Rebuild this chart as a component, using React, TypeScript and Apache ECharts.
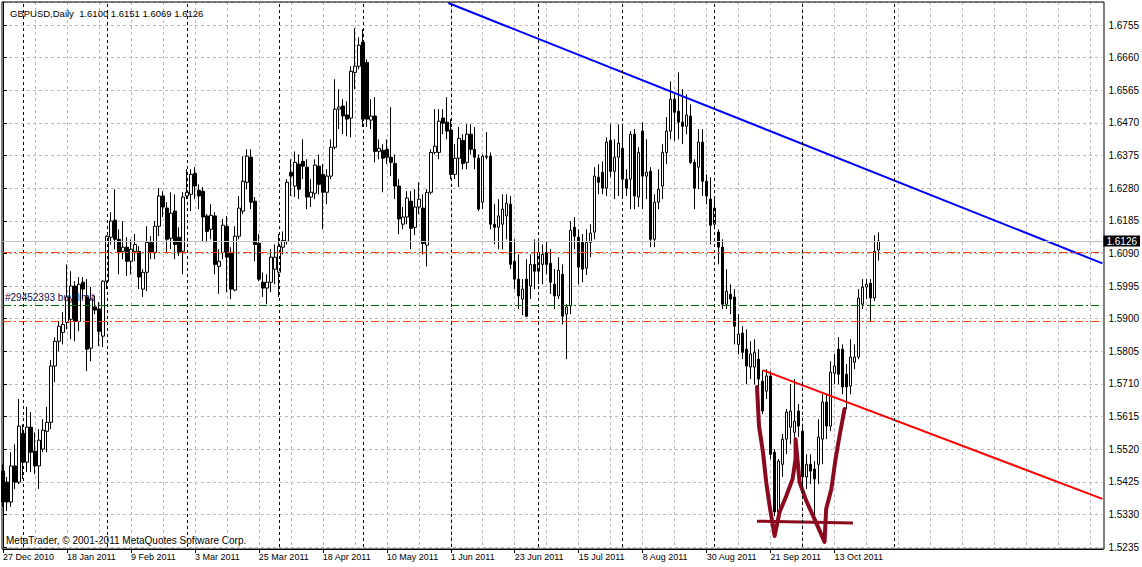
import React, { useEffect, useRef } from "react";
import * as echarts from "echarts";

const SYMBOL = "GBPUSD,Daily";
const SLOTS = 276; // bars plus the empty chart shift on the right
const FONT = 'Tahoma, "Liberation Sans", Arial, sans-serif';

const opens = [
  1.5456,1.5424,1.5366,1.5471,1.5424,1.5566,1.5482,1.5584,1.5514,1.5471,
  1.5520,1.5572,1.5598,1.5762,1.5834,1.5860,1.5889,1.5898,1.5995,1.5892,
  1.6006,1.5963,1.5814,1.5934,1.5928,1.5849,1.6009,1.6137,1.6187,1.6131,
  1.6096,1.6108,1.6067,1.6096,1.6096,1.5986,1.6035,1.6122,1.6093,1.6169,
  1.6257,1.6222,1.6134,1.6213,1.6137,1.6096,1.6257,1.6262,1.6323,1.6274,
  1.6271,1.6199,1.6160,1.6199,1.6052,1.6093,1.6169,1.6093,1.5983,1.6140,
  1.6213,1.6297,1.6370,1.6242,1.6119,1.6006,1.5989,1.6006,1.6044,1.6035,
  1.6108,1.6125,1.6326,1.6286,1.6350,1.6358,1.6341,1.6254,1.6265,1.6344,
  1.6320,1.6268,1.6315,1.6399,1.6510,1.6519,1.6493,1.6484,1.6617,1.6635,
  1.6705,1.6646,1.6478,1.6490,1.6387,1.6390,1.6393,1.6370,1.6352,1.6286,
  1.6175,1.6196,1.6242,1.6166,1.6225,1.6222,1.6114,1.6268,1.6384,1.6384,
  1.6484,1.6472,1.6449,1.6320,1.6367,1.6419,1.6355,1.6437,1.6393,1.6367,
  1.6239,1.6370,1.6373,1.6175,1.6166,1.6175,1.6199,1.6233,1.6067,1.6015,
  1.5957,1.6015,1.5995,1.6058,1.6038,1.6058,1.6093,1.6061,1.6000,1.5966,
  1.6029,1.5913,1.5937,1.6166,1.6137,1.6122,1.6047,1.6122,1.6152,1.6312,
  1.6326,1.6280,1.6419,1.6329,1.6370,1.6396,1.6306,1.6306,1.6437,1.6254,
  1.6446,1.6315,1.6329,1.6131,1.6239,1.6286,1.6384,1.6446,1.6539,1.6504,
  1.6472,1.6460,1.6490,1.6355,1.6341,1.6414,1.6300,1.6248,1.6175,1.6152,
  1.6108,1.5942,1.5971,1.5963,1.5825,1.5858,1.5811,1.5759,1.5759,1.5782,
  1.5718,1.5689,1.5733,1.5511,1.5337,1.5476,1.5549,1.5584,1.5569,1.5631,
  1.5572,1.5439,1.5476,1.5462,1.5476,1.5549,1.5657,1.5587,1.5741,1.5811,
  1.5811,1.5738,1.5704,1.5773,1.5788,1.5942,1.5992,1.6003,1.5960,1.6100,
];

const closes = [
  1.5366,1.5366,1.5471,1.5424,1.5587,1.5482,1.5584,1.5511,1.5471,1.5546,
  1.5575,1.5598,1.5762,1.5834,1.5878,1.5883,1.5963,1.5995,1.5892,1.6000,
  1.5986,1.5811,1.5957,1.5925,1.5863,1.6009,1.6140,1.6184,1.6131,1.6093,
  1.6108,1.6067,1.6102,1.6116,1.6021,1.6035,1.6122,1.6093,1.6169,1.6257,
  1.6225,1.6131,1.6207,1.6116,1.6093,1.6254,1.6268,1.6320,1.6286,1.6257,
  1.6196,1.6154,1.6201,1.6058,1.6067,1.6172,1.6079,1.5986,1.6140,1.6222,
  1.6300,1.6373,1.6239,1.6116,1.6015,1.5989,1.6006,1.6079,1.6079,1.6111,
  1.6128,1.6297,1.6315,1.6355,1.6277,1.6344,1.6254,1.6268,1.6347,1.6291,
  1.6268,1.6315,1.6399,1.6510,1.6516,1.6490,1.6481,1.6620,1.6635,1.6696,
  1.6481,1.6481,1.6490,1.6387,1.6396,1.6367,1.6370,1.6355,1.6286,1.6190,
  1.6196,1.6251,1.6163,1.6225,1.6248,1.6119,1.6268,1.6384,1.6402,1.6475,
  1.6469,1.6446,1.6320,1.6367,1.6425,1.6352,1.6437,1.6393,1.6370,1.6219,
  1.6373,1.6373,1.6175,1.6166,1.6199,1.6219,1.6236,1.6058,1.6015,1.5966,
  1.5986,1.5907,1.6058,1.6038,1.6093,1.6087,1.6058,1.6006,1.5966,1.6041,
  1.5907,1.5934,1.6157,1.6140,1.6050,1.6044,1.6122,1.6149,1.6315,1.6297,
  1.6280,1.6414,1.6329,1.6370,1.6411,1.6306,1.6280,1.6437,1.6257,1.6384,
  1.6315,1.6326,1.6131,1.6239,1.6277,1.6384,1.6446,1.6539,1.6501,1.6472,
  1.6460,1.6493,1.6355,1.6280,1.6414,1.6300,1.6257,1.6172,1.6222,1.6108,
  1.5942,1.5980,1.5957,1.5878,1.5855,1.5802,1.5762,1.5797,1.5802,1.5724,
  1.5631,1.5733,1.5505,1.5337,1.5485,1.5549,1.5628,1.5631,1.5601,1.5587,
  1.5439,1.5476,1.5456,1.5433,1.5555,1.5657,1.5587,1.5744,1.5762,1.5738,
  1.5701,1.5701,1.5788,1.5788,1.5960,1.5992,1.6000,1.5960,1.6096,1.6126,
];

const lows = [
  1.5352,1.5340,1.5352,1.5404,1.5418,1.5433,1.5453,1.5453,1.5447,1.5404,
  1.5511,1.5511,1.5578,1.5715,1.5805,1.5825,1.5869,1.5840,1.5834,1.5863,
  1.5957,1.5747,1.5776,1.5913,1.5820,1.5817,1.5986,1.6116,1.6102,1.6029,
  1.6073,1.6024,1.6029,1.6067,1.5986,1.5963,1.5980,1.6073,1.6073,1.6140,
  1.6196,1.6093,1.6102,1.6073,1.6082,1.6029,1.6248,1.6213,1.6248,1.6219,
  1.6125,1.6122,1.6131,1.6029,1.5972,1.6073,1.5977,1.5957,1.5980,1.6131,
  1.6204,1.6277,1.6219,1.6067,1.6009,1.5963,1.5942,1.5977,1.6000,1.5963,
  1.6087,1.6116,1.6257,1.6254,1.6248,1.6306,1.6219,1.6225,1.6248,1.6262,
  1.6160,1.6233,1.6306,1.6393,1.6452,1.6437,1.6431,1.6428,1.6568,1.6626,
  1.6458,1.6458,1.6452,1.6355,1.6364,1.6268,1.6350,1.6315,1.6248,1.6146,
  1.6160,1.6175,1.6102,1.6143,1.6204,1.6087,1.6052,1.6262,1.6378,1.6364,
  1.6437,1.6422,1.6306,1.6306,1.6283,1.6335,1.6335,1.6378,1.6335,1.6213,
  1.6219,1.6364,1.6160,1.6116,1.6102,1.6102,1.6131,1.6044,1.5986,1.5928,
  1.5910,1.5904,1.5957,1.5986,1.6000,1.6000,1.6029,1.5972,1.5928,1.5957,
  1.5883,1.5782,1.5913,1.6102,1.6000,1.6006,1.6027,1.6079,1.6131,1.6262,
  1.6262,1.6257,1.6312,1.6248,1.6257,1.6248,1.6257,1.6219,1.6219,1.6225,
  1.6219,1.6248,1.6108,1.6108,1.6219,1.6248,1.6350,1.6422,1.6417,1.6422,
  1.6408,1.6437,1.6350,1.6219,1.6277,1.6257,1.6233,1.6116,1.6160,1.6058,
  1.5928,1.5928,1.5913,1.5825,1.5796,1.5782,1.5709,1.5724,1.5709,1.5695,
  1.5622,1.5666,1.5491,1.5325,1.5331,1.5439,1.5505,1.5534,1.5549,1.5555,
  1.5398,1.5404,1.5418,1.5302,1.5418,1.5476,1.5549,1.5572,1.5709,1.5709,
  1.5680,1.5637,1.5680,1.5753,1.5782,1.5928,1.5957,1.5890,1.5951,1.6069,
];

const highs = [
  1.5476,1.5439,1.5511,1.5534,1.5666,1.5592,1.5643,1.5628,1.5569,1.5578,
  1.5607,1.5643,1.5779,1.5846,1.5892,1.5919,1.6058,1.6038,1.6009,1.6021,
  1.6021,1.6015,1.5992,1.5966,1.5948,1.6012,1.6143,1.6210,1.6277,1.6160,
  1.6184,1.6137,1.6131,1.6146,1.6111,1.6044,1.6169,1.6140,1.6184,1.6280,
  1.6271,1.6239,1.6268,1.6262,1.6166,1.6268,1.6335,1.6335,1.6341,1.6291,
  1.6283,1.6204,1.6233,1.6210,1.6102,1.6190,1.6199,1.6108,1.6169,1.6257,
  1.6373,1.6393,1.6393,1.6254,1.6146,1.6035,1.6029,1.6102,1.6116,1.6146,
  1.6154,1.6306,1.6364,1.6387,1.6378,1.6422,1.6364,1.6306,1.6364,1.6378,
  1.6350,1.6335,1.6422,1.6597,1.6568,1.6539,1.6533,1.6635,1.6746,1.6719,
  1.6743,1.6655,1.6539,1.6545,1.6422,1.6408,1.6422,1.6516,1.6378,1.6306,
  1.6225,1.6271,1.6271,1.6277,1.6297,1.6262,1.6277,1.6393,1.6510,1.6510,
  1.6510,1.6545,1.6481,1.6408,1.6458,1.6437,1.6466,1.6466,1.6458,1.6378,
  1.6378,1.6443,1.6384,1.6233,1.6248,1.6262,1.6262,1.6257,1.6131,1.6087,
  1.6015,1.6073,1.6087,1.6131,1.6131,1.6116,1.6125,1.6102,1.6044,1.6079,
  1.6058,1.5942,1.6184,1.6196,1.6160,1.6146,1.6160,1.6175,1.6341,1.6350,
  1.6358,1.6428,1.6466,1.6422,1.6466,1.6466,1.6335,1.6446,1.6452,1.6399,
  1.6472,1.6422,1.6341,1.6262,1.6335,1.6408,1.6487,1.6591,1.6553,1.6617,
  1.6568,1.6553,1.6524,1.6364,1.6452,1.6452,1.6320,1.6312,1.6248,1.6160,
  1.6131,1.6044,1.6000,1.5986,1.5913,1.5878,1.5869,1.5834,1.5840,1.5811,
  1.5750,1.5753,1.5747,1.5520,1.5491,1.5564,1.5637,1.5709,1.5724,1.5651,
  1.5584,1.5505,1.5505,1.5485,1.5607,1.5680,1.5680,1.5776,1.5797,1.5846,
  1.5825,1.5768,1.5840,1.5825,1.5986,1.6015,1.6015,1.6015,1.6143,1.6151,
];

// bar indices of the monthly period separators
const monthSeparators = [5, 26, 46, 69, 90, 112, 134, 155, 178, 200, 223];

// price scale
const priceMin = 1.5235;
const priceMax = 1.6822;
const priceStep = 0.0095;

// horizontal levels
const bidPrice = 1.6126;
const upperOrderPrice = 1.6093;
const buyLimitPrice = 1.594;
const lowerOrderPrice = 1.5891;
const buyLimitLabel = "#29452393 buy limit";

// drawn objects, [bar index, price]
const blueTrend = [[111.4, 1.6819], [275, 1.6061]];
const redTrend = [[190, 1.575], [275, 1.5375]];
const wDrawing = [
  [188.6, 1.5701], [189.1, 1.5587], [190.1, 1.5511], [190.9, 1.5424], [191.75, 1.5355],
  [193.0, 1.5267], [194.25, 1.5337], [195.9, 1.5383], [197.5, 1.5433], [198.25, 1.5491],
  [198.25, 1.5549], [199.25, 1.5424], [200.9, 1.537], [203.0, 1.5316], [205.5, 1.525],
  [205.9, 1.5346], [207.2, 1.5404], [208.25, 1.5491], [209.25, 1.5559], [210.5, 1.5637],
];
const wBase = [[188.6, 1.531], [212.6, 1.5305]];

const MONTHS = ["Jan","Feb","Mar","Apr","May","Jun","Jul","Aug","Sep","Oct","Nov","Dec"];

function tradingDays(count: number): string[] {
  const out: string[] = [];
  const d = new Date(Date.UTC(2010, 11, 27));
  while (out.length < count) {
    const wd = d.getUTCDay();
    if (wd !== 0 && wd !== 6) {
      out.push(`${d.getUTCDate()} ${MONTHS[d.getUTCMonth()]} ${d.getUTCFullYear()}`);
    }
    d.setUTCDate(d.getUTCDate() + 1);
  }
  return out;
}

export default function App() {
  const ref = useRef<HTMLDivElement>(null);

  useEffect(() => {
    if (!ref.current) return;
    const chart = echarts.init(ref.current, null, { renderer: "svg" });
    const dates = tradingDays(SLOTS);
    const nBars = opens.length;
    const candles = opens.map((o, i) => [o, closes[i], lows[i], highs[i]]);
    const last = nBars - 1;
    const titleText = `${SYMBOL}\u00a0\u00a0${opens[last].toFixed(4)} ${highs[last].toFixed(4)} ${lows[last].toFixed(4)} ${closes[last].toFixed(4)}`;

    const gridColor = "#bcb6c6";
    const dashDot = [8, 3, 2, 3];

    const sepLines = monthSeparators.map((i) => ({
      xAxis: dates[i],
      lineStyle: { color: "#000", width: 1, type: [3, 3] },
      label: { show: false },
    }));

    const levelLines = [
      {
        yAxis: bidPrice,
        lineStyle: { color: "#c0c0c0", width: 1, type: "solid" },
        label: {
          show: true,
          position: "end",
          distance: 1,
          formatter: bidPrice.toFixed(4),
          color: "#fff",
          backgroundColor: "#000",
          padding: [1, 3, 0, 3],
          fontSize: 10,
          fontFamily: FONT,
        },
      },
      {
        yAxis: upperOrderPrice,
        lineStyle: { color: "#ff4500", width: 1, type: dashDot },
        label: { show: false },
      },
      {
        yAxis: buyLimitPrice,
        lineStyle: { color: "#007000", width: 1, type: dashDot },
        label: {
          show: true,
          position: "insideStartTop",
          distance: 2,
          formatter: buyLimitLabel,
          color: "#10104a",
          fontSize: 10,
          fontFamily: FONT,
        },
      },
      {
        yAxis: lowerOrderPrice,
        lineStyle: { color: "#ff4500", width: 1, type: dashDot },
        label: { show: false },
      },
    ];

    const labelTick = (i: number) => i % 16 === 0 && i < nBars;

    chart.setOption({
      animation: false,
      backgroundColor: "#fff",
      title: {
        text: titleText,
        left: 5,
        top: 3,
        textStyle: { fontSize: 9.5, fontWeight: "normal", color: "#000", fontFamily: FONT },
      },
      grid: { left: 3, right: 38, top: 2, bottom: 20, containLabel: false },
      xAxis: [
        {
          type: "category",
          data: dates,
          boundaryGap: false,
          offset: 2,
          axisLine: { show: true, lineStyle: { color: "#000", width: 1 } },
          axisTick: { show: true, interval: labelTick, length: 4, lineStyle: { color: "#000" } },
          axisLabel: {
            interval: labelTick,
            align: "left",
            margin: 3,
            color: "#000",
            fontSize: 9,
            fontFamily: FONT,
          },
          splitLine: {
            show: true,
            interval: (i: number) => i % 8 === 0 && i > 0,
            lineStyle: { color: gridColor, width: 1, type: [3, 3] },
          },
        },
        { type: "value", min: 0, max: SLOTS - 1, show: false },
      ],
      yAxis: {
        type: "value",
        position: "right",
        min: priceMin,
        max: priceMax,
        interval: priceStep,
        axisLine: { show: true, lineStyle: { color: "#000", width: 1 } },
        axisTick: { show: true, length: 4, lineStyle: { color: "#000" } },
        axisLabel: {
          show: true,
          showMaxLabel: false,
          margin: 6,
          color: "#000",
          fontSize: 10,
          fontFamily: FONT,
          formatter: (v: number) => v.toFixed(4),
        },
        splitLine: { show: true, lineStyle: { color: gridColor, width: 1, type: [3, 3] } },
      },
      graphic: [
        {
          type: "rect",
          silent: true,
          z: 100,
          shape: { x: 2, y: 2, width: 1102, height: 547 },
          style: { fill: "none", stroke: "#000", lineWidth: 1 },
        },
        {
          type: "text",
          silent: true,
          left: 6,
          top: 535,
          style: {
            text: "MetaTrader, © 2001-2011 MetaQuotes Software Corp.",
            fill: "#000",
            fontSize: 10,
            fontFamily: FONT,
          },
        },
      ],
      series: [
        {
          name: "levels",
          type: "line",
          data: [],
          z: 1,
          markLine: {
            silent: true,
            precision: 4,
            symbol: ["none", "none"],
            animation: false,
            data: [...sepLines, ...levelLines],
          },
        },
        {
          name: SYMBOL,
          type: "candlestick",
          data: candles,
          barWidth: 3,
          z: 2,
          itemStyle: {
            color: "#fff",
            color0: "#000",
            borderColor: "#000",
            borderColor0: "#000",
            borderWidth: 1,
          },
          emphasis: { disabled: true },
        },
        {
          name: "trend blue",
          type: "line",
          xAxisIndex: 1,
          data: blueTrend,
          symbol: "none",
          z: 3,
          lineStyle: { color: "#0000ff", width: 2 },
        },
        {
          name: "trend red",
          type: "line",
          xAxisIndex: 1,
          data: redTrend,
          symbol: "none",
          z: 3,
          lineStyle: { color: "#ff0000", width: 2 },
        },
        {
          name: "drawing",
          type: "line",
          xAxisIndex: 1,
          data: wDrawing,
          symbol: "none",
          z: 4,
          lineStyle: { color: "#8b0a1e", width: 4, join: "round", cap: "round" },
        },
        {
          name: "drawing base",
          type: "line",
          xAxisIndex: 1,
          data: wBase,
          symbol: "none",
          z: 4,
          lineStyle: { color: "#8b0a1e", width: 3 },
        },
      ],
    });
    return () => chart.dispose();
  }, []);

  return (
    <div
      ref={ref}
      style={{ position: "fixed", left: 0, top: 0, width: 1142, height: 567, background: "#fff" }}
    />
  );
}
